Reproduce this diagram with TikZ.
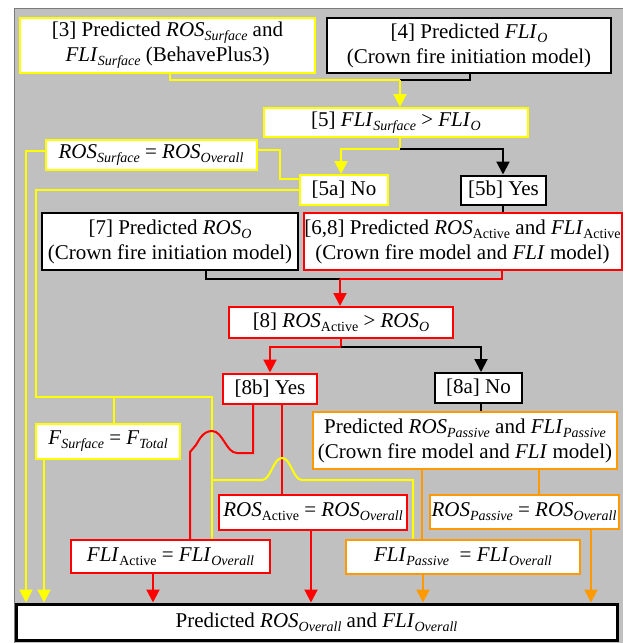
\documentclass[tikz,border=0pt]{standalone}
\usepackage{fontspec}
\setmainfont{Liberation Serif}
\usetikzlibrary{arrows.meta}
\definecolor{bgGray}{HTML}{C0C0C0}
\definecolor{frameGray}{HTML}{7A7A7A}
\definecolor{ylw}{HTML}{FFFF00}
\definecolor{rd}{HTML}{FF0000}
\definecolor{orng}{HTML}{FF9900}
\newcommand{\sbi}[1]{\raisebox{-4pt}{\fontsize{14}{14}\selectfont\itshape #1}}
\newcommand{\sbr}[1]{\raisebox{-4pt}{\fontsize{14}{14}\selectfont #1}}
\newcommand{\vi}[1]{\textit{#1}}
\begin{document}
\begin{tikzpicture}[x=1pt,y=-1pt,
  font=\fontsize{21}{25}\selectfont,
  nbox/.style={draw, fill=white, line width=2pt, inner sep=0pt, align=center},
  ybox/.style={nbox, draw=ylw},
  rbox/.style={nbox, draw=rd},
  kbox/.style={nbox, draw=black},
  obox/.style={nbox, draw=orng},
  ln/.style={line width=2pt},
  yl/.style={ln, draw=ylw},
  rl/.style={ln, draw=rd},
  kl/.style={ln, draw=black},
  ol/.style={ln, draw=orng},
  arr/.style={-{Triangle[width=13pt,length=13pt]}}
]
\useasboundingbox (0,0) rectangle (623,643);
\fill[bgGray] (14,8) rectangle (623,643);
\draw[frameGray, line width=1.5pt] (14.5,643) -- (14.5,8.5) -- (623,8.5);

% nodes
\node[ybox, minimum width=295pt, minimum height=55pt] (n3) at (167.5,45.5)
  {[3] Predicted \vi{ROS}\sbi{Surface} and\\ \vi{FLI}\sbi{Surface} (BehavePlus3)};
\node[kbox, minimum width=284pt, minimum height=55pt] (n4) at (469,45.5)
  {[4] Predicted \vi{FLI}\sbi{O}\\(Crown fire initiation model)};
\node[ybox, minimum width=264pt, minimum height=29pt] (n5) at (396,122.5)
  {[5] \vi{FLI}\sbi{Surface} > \vi{FLI}\sbi{O}};
\node[ybox, minimum width=211pt, minimum height=30pt] (nRSO) at (151,155)
  {\vi{ROS}\sbi{Surface} = \vi{ROS}\sbi{Overall}};
\node[ybox, minimum width=88pt, minimum height=30pt] (n5a) at (344,190) {[5a] No};
\node[kbox, minimum width=85pt, minimum height=29pt] (n5b) at (503.5,190) {[5b] Yes};
\node[kbox, minimum width=256pt, minimum height=57pt] (n7) at (170,241.5)
  {[7] Predicted \vi{ROS}\sbi{O}\\(Crown fire initiation model)};
\node[rbox, minimum width=318pt, minimum height=57pt] (n68) at (462.5,241.5)
  {[6,8] Predicted \vi{ROS}\sbr{Active} and \vi{FLI}\sbr{Active}\\(Crown fire model and \vi{FLI} model)};
\node[rbox, minimum width=224pt, minimum height=31pt] (n8) at (341,322.5)
  {[8] \vi{ROS}\sbr{Active} > \vi{ROS}\sbi{O}};
\node[rbox, minimum width=94pt, minimum height=30pt] (n8b) at (270,388.5) {[8b] Yes};
\node[kbox, minimum width=87pt, minimum height=30pt] (n8a) at (478.5,388) {[8a] No};
\node[obox, minimum width=304pt, minimum height=57pt] (nPas) at (465,440.5)
  {Predicted \vi{ROS}\sbi{Passive} and \vi{FLI}\sbi{Passive}\\(Crown fire model and \vi{FLI} model)};
\node[ybox, minimum width=144pt, minimum height=35pt] (nFS) at (108,441.5)
  {\vi{F}\sbi{Surface} = \vi{F}\sbi{Total}};
\node[rbox, minimum width=188pt, minimum height=35pt] (nRA) at (313,512)
  {\vi{ROS}\sbr{Active} = \vi{ROS}\sbi{Overall}};
\node[obox, minimum width=189pt, minimum height=34pt] (nRP) at (524,512)
  {\vi{ROS}\sbi{Passive} = \vi{ROS}\sbi{Overall}};
\node[rbox, minimum width=199pt, minimum height=33pt] (nFA) at (170.5,556.5)
  {\vi{FLI}\sbr{Active} = \vi{FLI}\sbi{Overall}};
\node[obox, minimum width=234pt, minimum height=34pt] (nFP) at (463,556.5)
  {\vi{FLI}\sbi{Passive}\ \ = \vi{FLI}\sbi{Overall}};
\node[kbox, line width=3pt, minimum width=601pt, minimum height=36pt] (nOut) at (316.5,622)
  {Predicted \vi{ROS}\sbi{Overall} and \vi{FLI}\sbi{Overall}};

% top connectors
\draw[kl] (n4.south -| 470,0) -- (470,80) -- (400,80);
\draw[yl] (n3.south -| 170,0) -- (170,80) -- (400,80);
\draw[yl, arr] (400,80) -- (n5.north -| 400,0);
\draw[yl] (n5.south -| 400,0) -- (400,149);
\draw[kl, arr] (400,149) -- (503,149) -- (n5b.north -| 503,0);
\draw[yl, arr] (400,149) -- (341,149) -- (n5a.north -| 341,0);
\draw[kl] (n5b.south -| 503,0) -- (n68.north -| 503,0);

% 5a yellow network
\draw[yl] (nRSO.east |- 0,150) -- (280,150) -- (280,179) -- (n5a.west |- 0,179);
\draw[yl, arr] (nRSO.west |- 0,151) -- (26,151) -- (nOut.north -| 26,0);
\draw[yl] (n5a.west) -- (36,190) -- (36,397) -- (212,397) -- (nFA.north -| 212,0);
\draw[yl] (114,397) -- (nFS.north -| 114,0);
\draw[yl, arr] (nFS.south -| 44,0) -- (nOut.north -| 44,0);

% middle connectors
\draw[kl] (n7.south -| 206,0) -- (206,279) -- (340,279);
\draw[rl] (n68.south -| 502,0) -- (502,279) -- (340,279);
\draw[rl, arr] (340,279) -- (n8.north -| 340,0);
\draw[rl] (n8.south -| 341,0) -- (341,347);
\draw[kl, arr] (341,347) -- (481,347) -- (n8a.north -| 481,0);
\draw[rl, arr] (341,347) -- (270,347) -- (n8b.north -| 270,0);
\draw[kl] (n8a.south -| 481,0) -- (nPas.north -| 481,0);

% red from 8b
\draw[rl] (n8b.south -| 282,0) -- (nRA.north -| 282,0);
\draw[yl] (212,480) -- (262,480) .. controls (271,480) and (273,458) .. (282,458)
  .. controls (291,458) and (293,480) .. (302,480) -- (413,480) -- (nFP.north -| 413,0);
\draw[rl] (n8b.south -| 253,0) -- (253,453) -- (237,453)
  .. controls (226,453) and (223,431) .. (212,431)
  .. controls (203,431) and (199,440) .. (196,445) -- (190,452) -- (nFA.north -| 190,0);
\draw[rl, arr] (nRA.south -| 311,0) -- (nOut.north -| 311,0);
\draw[rl, arr] (nFA.south -| 153,0) -- (nOut.north -| 153,0);

% orange
\draw[ol] (nPas.south -| 422,0) -- (nFP.north -| 422,0);
\draw[ol] (nPas.south -| 539,0) -- (nRP.north -| 539,0);
\draw[ol, arr] (nFP.south -| 423,0) -- (nOut.north -| 423,0);
\draw[ol, arr] (nRP.south -| 591,0) -- (nOut.north -| 591,0);
\end{tikzpicture}
\end{document}
